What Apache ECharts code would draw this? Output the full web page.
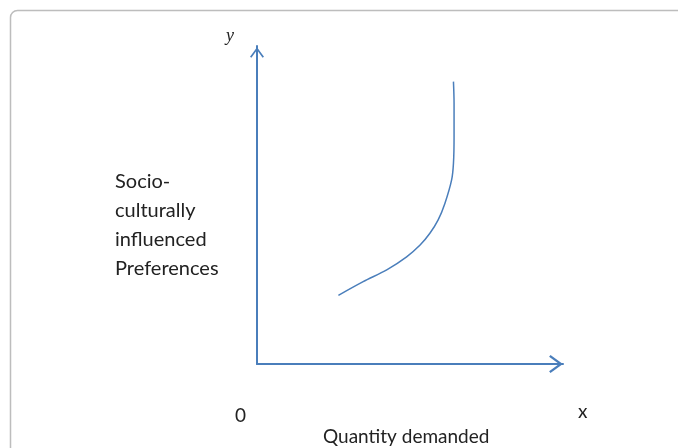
<!DOCTYPE html>
<html>
<head>
<meta charset="utf-8">
<script src="https://cdn.jsdelivr.net/npm/echarts@6/dist/echarts.min.js"></script>
<style>
  html, body { margin: 0; padding: 0; background: #fff; }
  #main { width: 678px; height: 448px; }
</style>
</head>
<body>
<div id="main"></div>
<script>
// preference curve (axis units 0..100)
var curveX = [26.6, 34.7, 42.4, 48.9, 53.3, 56.5, 59.2, 61.4, 63.6, 64.2, 64.4, 64.4, 64.2];
var curveY = [21.6, 25.9, 29.6, 33.7, 37.4, 41.1, 45.3, 50.5, 57.9, 63.1, 71.5, 82.0, 88.8];

var yLabelLines = ['Socio-', 'culturally', 'influenced', 'Preferences'];
var xTitle = 'Quantity demanded';

var blue = '#4a7ebb';
// open chevron arrow head, pointing up
var chevron = 'path://M9,0 L18,12.4 L16.2,13.8 L9,3.8 L1.8,13.8 L0,12.4 Z';

var chart = echarts.init(document.getElementById('main'));

var pts = curveX.map(function (x, i) { return [x, curveY[i]]; });

var option = {
    animation: false,
    grid: { left: 257, right: 115, top: 46, bottom: 84 },
    xAxis: {
        type: 'value', min: 0, max: 100,
        axisLine: {
            show: true,
            lineStyle: { color: blue, width: 2 },
            symbol: ['none', chevron],
            symbolSize: [18, 14],
            symbolOffset: [0, -7]
        },
        axisTick: { show: false },
        axisLabel: { show: false },
        splitLine: { show: false }
    },
    yAxis: {
        type: 'value', min: 0, max: 100,
        axisLine: {
            show: true,
            lineStyle: { color: blue, width: 2 },
            symbol: ['none', chevron],
            symbolSize: [14, 13],
            symbolOffset: [0, -6.5]
        },
        axisTick: { show: false },
        axisLabel: { show: false },
        splitLine: { show: false }
    },
    graphic: [
        {
            type: 'rect', silent: true,
            shape: { x: 10.5, y: 10.5, width: 700, height: 500, r: 7 },
            style: { fill: 'none', stroke: '#bdbdbd', lineWidth: 1.5 }
        },
        {
            type: 'text', left: 226, top: 27,
            style: { text: 'y', font: 'italic 18px "Liberation Serif"', fill: '#222' }
        },
        {
            type: 'text', left: 115, top: 167,
            style: {
                text: yLabelLines.join('\n'),
                font: '20px Lato', lineHeight: 29, fill: '#222'
            }
        },
        {
            type: 'text', left: 235, top: 406,
            style: { text: '0', font: '19px Lato', fill: '#222' }
        },
        {
            type: 'text', left: 578, top: 402,
            style: { text: 'x', font: '19px Lato', fill: '#222' }
        },
        {
            type: 'text', left: 323, top: 427,
            style: { text: xTitle, font: '19px Lato', fill: '#222' }
        }
    ],
    series: [{
        type: 'line',
        data: pts,
        smooth: 0.3,
        showSymbol: false,
        lineStyle: { color: blue, width: 1.5 }
    }]
};

chart.setOption(option);
</script>
</body>
</html>
